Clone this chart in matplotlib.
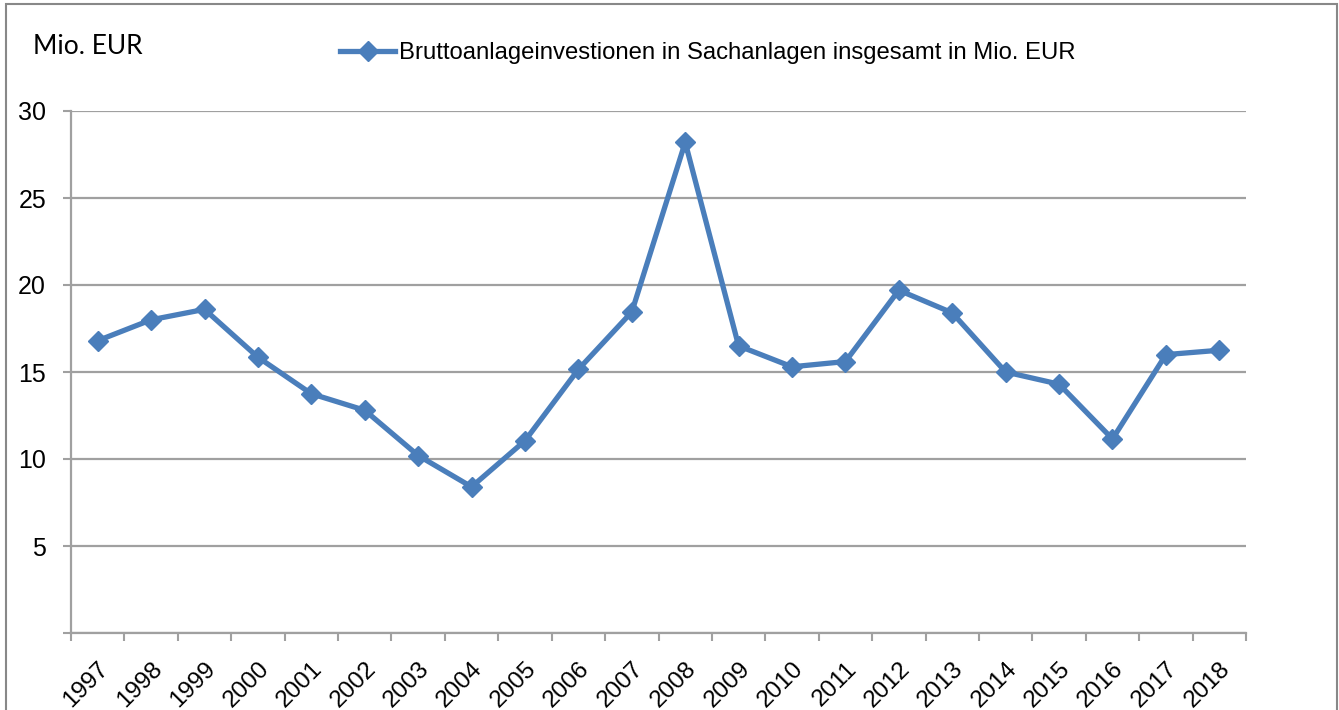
import numpy as np
import matplotlib.pyplot as plt
from matplotlib.patches import Rectangle

jahre = ['1997', '1998', '1999', '2000', '2001', '2002', '2003', '2004', '2005', '2006', '2007',
         '2008', '2009', '2010', '2011', '2012', '2013', '2014', '2015', '2016', '2017', '2018']
investitionen = [16.8, 18.0, 18.6, 15.85, 13.75, 12.8, 10.2, 8.4, 11.05, 15.15, 18.45,
                 28.2, 16.5, 15.3, 15.6, 19.7, 18.4, 15.0, 14.3, 11.15, 16.0, 16.25]
y_ticks = [0, 5, 10, 15, 20, 25, 30]
y_labels = ['', '5', '10', '15', '20', '25', '30']

blau = '#4a7ebb'
grau = '#a0a0a0'

fig = plt.figure(figsize=(13.39, 7.10), dpi=100)
ax = fig.add_axes([71/1339, 1 - 633/710, (1246 - 71)/1339, (633 - 111)/710])

x = np.arange(len(jahre))
ax.plot(x, investitionen, color=blau, lw=3.8, marker='D', markersize=10.5,
        label='Bruttoanlageinvestionen in Sachanlagen insgesamt in Mio. EUR')

ax.set_xlim(-0.5, len(jahre) - 0.5)
ax.set_ylim(0, 30)
ax.set_yticks(y_ticks)
ax.set_yticklabels(y_labels, fontsize=18, fontfamily='Liberation Sans')
ax.yaxis.grid(True, color=grau, lw=1.6)
ax.set_axisbelow(True)
ax.tick_params(axis='y', length=6, width=1.5, color=grau, pad=12)

ax.set_xticks(np.arange(len(jahre) + 1) - 0.5)
ax.set_xticklabels([])
ax.set_xticks(x, minor=True)
ax.set_xticklabels(jahre, minor=True, rotation=45, ha='right', va='top',
                   rotation_mode='anchor', fontsize=17.5, fontfamily='Liberation Sans')
ax.tick_params(axis='x', which='major', length=6, width=1.5, color=grau)
ax.tick_params(axis='x', which='minor', length=0, pad=18)

for s in ['top', 'right']:
    ax.spines[s].set_visible(False)
for s in ['left', 'bottom']:
    ax.spines[s].set_color(grau)
    ax.spines[s].set_linewidth(1.6)

fig.text(33/1339, 1 - 47/710, 'Mio. EUR', fontsize=19, fontfamily='Lato', va='center', ha='left')
fig.legend(loc='center', bbox_to_anchor=(708/1339, 1 - 53/710), frameon=False,
           prop={'family': 'Liberation Sans', 'size': 17.2}, handlelength=2.3, handletextpad=0.15)

fig.patches.append(Rectangle((6/1339, -0.01), 1331/1339, 1 - 4/710 + 0.01, transform=fig.transFigure,
                             fill=False, edgecolor='#888888', lw=1.5))

fig.savefig('out.png', dpi=100)
